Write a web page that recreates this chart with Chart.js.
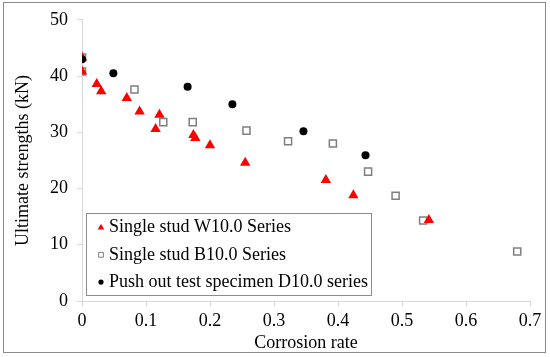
<!DOCTYPE html>
<html>
<head>
<meta charset="utf-8">
<script src="https://cdn.jsdelivr.net/npm/chart.js@4.4.1/dist/chart.umd.min.js"></script>
<style>
  html, body { margin: 0; padding: 0; background: #fff; }
  #wrap { width: 550px; height: 357px; position: relative; }
</style>
</head>
<body>
<div id="wrap"><canvas id="chart" width="550" height="357"></canvas></div>
<script>
// corrosion rate (x) / ultimate strength kN (y)
const wRate = [0, 0, 0.023, 0.030, 0.070, 0.090, 0.115, 0.121, 0.174, 0.177, 0.200, 0.255, 0.381, 0.424, 0.542];
const wLoad = [43.3, 40.8, 38.6, 37.3, 36.1, 33.7, 30.6, 33.1, 29.5, 29.0, 27.7, 24.6, 21.5, 18.8, 14.4];

const bRate = [0, 0, 0.082, 0.127, 0.173, 0.257, 0.322, 0.392, 0.447, 0.490, 0.533, 0.680];
const bLoad = [43.3, 40.8, 37.6, 31.8, 31.8, 30.3, 28.4, 28.0, 23.0, 18.7, 14.3, 8.8];

const dRate = [0, 0.049, 0.165, 0.235, 0.346, 0.443];
const dLoad = [43.0, 40.5, 38.1, 35.0, 30.2, 25.9];

const seriesNames = ["Single stud W10.0 Series", "Single stud B10.0 Series", "Push out test specimen D10.0 series"];
const xTicks = [0, 0.1, 0.2, 0.3, 0.4, 0.5, 0.6, 0.7];
const yTicks = [0, 10, 20, 30, 40, 50];

function pts(xs, ys) {
  return xs.map(function (x, i) { return { x: x, y: ys[i] }; });
}

const serif = "'Liberation Serif', 'Times New Roman', serif";
const axisGray = "#d9d9d9";

// white background + outer frame
const framePlugin = {
  id: "frame",
  beforeDraw: function (chart) {
    const ctx = chart.ctx;
    ctx.save();
    ctx.fillStyle = "#fff";
    ctx.fillRect(0, 0, chart.width, chart.height);
    ctx.strokeStyle = "#8c8c8c";
    ctx.lineWidth = 1;
    ctx.strokeRect(3.5, 2.5, 542, 350);
    ctx.restore();
  }
};

// legend box drawn inside the plot area
const boxLegend = {
  id: "boxLegend",
  afterDraw: function (chart) {
    const ctx = chart.ctx;
    const left = 86.5, top = 213.5, w = 285, h = 82;
    ctx.save();
    ctx.fillStyle = "#fff";
    ctx.fillRect(left, top, w, h);
    ctx.strokeStyle = "#8c8c8c";
    ctx.lineWidth = 1;
    ctx.strokeRect(left, top, w, h);
    const sizes = [3.8, 3.4, 2.6];
    chart.data.datasets.forEach(function (ds, i) {
      const cy = top + 14 + i * 27.3;
      const isRect = ds.pointStyle === "rect";
      ctx.fillStyle = ds.backgroundColor;
      ctx.strokeStyle = ds.borderColor;
      ctx.lineWidth = isRect ? 1 : 0;
      Chart.helpers.drawPoint(ctx, {
        pointStyle: ds.pointStyle,
        radius: sizes[i],
        rotation: 0,
        borderWidth: isRect ? 1 : 0
      }, 101, cy);
      ctx.fillStyle = "#000";
      ctx.font = "18px " + serif;
      ctx.textBaseline = "middle";
      ctx.textAlign = "left";
      ctx.fillText(ds.label, 109, cy);
    });
    ctx.restore();
  }
};

const ctx = document.getElementById("chart").getContext("2d");
new Chart(ctx, {
  type: "scatter",
  data: {
    datasets: [
      {
        label: seriesNames[0],
        data: pts(wRate, wLoad),
        pointStyle: "triangle",
        pointRadius: 6,
        backgroundColor: "#ff0000",
        borderColor: "#ff0000",
        borderWidth: 0,
        order: 1
      },
      {
        label: seriesNames[1],
        data: pts(bRate, bLoad),
        pointStyle: "rect",
        pointRadius: 5,
        backgroundColor: "rgba(255,255,255,0)",
        borderColor: "#7f7f7f",
        borderWidth: 1.5,
        order: 2
      },
      {
        label: seriesNames[2],
        data: pts(dRate, dLoad),
        pointStyle: "circle",
        pointRadius: 4,
        backgroundColor: "#000",
        borderColor: "#000",
        borderWidth: 0,
        order: 0
      }
    ]
  },
  options: {
    responsive: false,
    animation: false,
    events: [],
    layout: { padding: { left: 0, right: 20, top: 15, bottom: 0 } },
    plugins: {
      legend: { display: false },
      tooltip: { enabled: false }
    },
    scales: {
      x: {
        type: "linear",
        min: 0,
        max: 0.7,
        afterBuildTicks: function (scale) {
          scale.ticks = xTicks.map(function (v) { return { value: v }; });
        },
        afterFit: function (scale) { scale.height = 56; },
        grid: { drawOnChartArea: false, drawTicks: true, tickLength: 5, color: axisGray },
        border: { color: axisGray, width: 1 },
        ticks: {
          color: "#000",
          padding: 4,
          maxRotation: 0,
          font: { family: serif, size: 18 },
          callback: function (v) { return v === 0 ? "0" : String(Math.round(v * 10) / 10); }
        },
        title: {
          display: true,
          text: "Corrosion rate",
          color: "#000",
          font: { family: serif, size: 18 },
          padding: { top: 0, bottom: 3 }
        }
      },
      y: {
        type: "linear",
        min: 0,
        max: 50,
        afterBuildTicks: function (scale) {
          scale.ticks = yTicks.map(function (v) { return { value: v }; });
        },
        afterFit: function (scale) { scale.width = 82; },
        grid: { drawOnChartArea: false, drawTicks: true, tickLength: 5, color: axisGray },
        border: { color: axisGray, width: 1 },
        ticks: {
          color: "#000",
          padding: 9,
          font: { family: serif, size: 18 }
        },
        title: {
          display: true,
          text: "Ultimate strengths (kN)",
          color: "#000",
          font: { family: serif, size: 18 },
          padding: { top: 12, bottom: 0 }
        }
      }
    }
  },
  plugins: [framePlugin, boxLegend]
});
</script>
</body>
</html>
